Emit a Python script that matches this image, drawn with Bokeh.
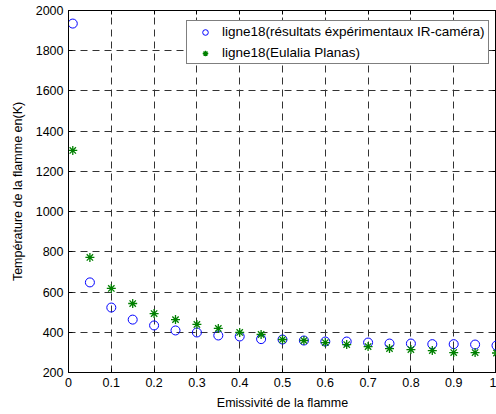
from bokeh.plotting import figure
from bokeh.models import (LinearAxis, Legend, LegendItem, FixedTicker, Range1d)
from bokeh.embed import file_html
from bokeh.resources import INLINE

# Flame emissivity (x) and flame temperature in K for the two series of "ligne18"
emissivity = [0.01, 0.05, 0.1, 0.15, 0.2, 0.25, 0.3, 0.35, 0.4, 0.45, 0.5,
              0.55, 0.6, 0.65, 0.7, 0.75, 0.8, 0.85, 0.9, 0.95, 1.0]
temp_ir_camera = [1935, 648, 523, 463, 434, 409, 399, 384, 379, 366, 364,
                  359, 354, 354, 349, 344, 344, 341, 341, 339, 334]
temp_planas = [1304, 772, 618, 543, 493, 463, 439, 419, 399, 389, 364,
               359, 349, 339, 329, 319, 314, 309, 299, 299, 297]

x_ticks = [0, 0.1, 0.2, 0.3, 0.4, 0.5, 0.6, 0.7, 0.8, 0.9, 1]
x_tick_labels = ["0", "0.1", "0.2", "0.3", "0.4", "0.5", "0.6", "0.7", "0.8", "0.9", "1"]
y_ticks = [200, 400, 600, 800, 1000, 1200, 1400, 1600, 1800, 2000]

label_ir = "ligne18(résultats éxpérimentaux IR-caméra)"
label_planas = "ligne18(Eulalia Planas)"

FONT = "Liberation Sans"
FS = "12.5px"

p = figure(width=496, height=414, output_backend="svg", toolbar_location=None,
           x_range=Range1d(0, 1), y_range=Range1d(200, 2000),
           min_border_left=68, min_border_right=0, min_border_top=10,
           min_border_bottom=42, x_axis_location=None, y_axis_location=None)
p.background_fill_color = "white"
p.border_fill_color = "white"
p.outline_line_color = "black"
p.outline_line_width = 1

xaxis = LinearAxis(ticker=FixedTicker(ticks=x_ticks),
                   major_label_overrides=dict(zip(x_ticks, x_tick_labels)),
                   axis_label="Emissivité de la flamme")
yaxis = LinearAxis(ticker=FixedTicker(ticks=y_ticks),
                   axis_label="Température de la flamme en(K)")
for ax in (xaxis, yaxis):
    ax.axis_line_color = "black"
    ax.major_tick_line_color = "black"
    ax.major_tick_in = 4
    ax.major_tick_out = 0
    ax.minor_tick_line_color = None
    ax.major_label_text_font = FONT
    ax.major_label_text_font_size = FS
    ax.major_label_text_color = "black"
    ax.axis_label_text_font = FONT
    ax.axis_label_text_font_size = FS
    ax.axis_label_text_font_style = "normal"
    ax.axis_label_text_color = "black"
xaxis.major_label_standoff = 5
xaxis.axis_label_standoff = 6
yaxis.major_label_standoff = 5
yaxis.axis_label_standoff = 8
p.add_layout(xaxis, "below")
p.add_layout(yaxis, "left")

# Tick marks on the top and right edges of the box, without labels
for side, ticks in (("above", x_ticks), ("right", y_ticks)):
    ax = LinearAxis(ticker=FixedTicker(ticks=ticks))
    ax.major_label_text_color = None
    ax.major_label_text_font_size = "1px"
    ax.major_label_standoff = 0
    ax.major_tick_in = 4
    ax.major_tick_out = 0
    ax.minor_tick_line_color = None
    ax.axis_line_color = "black"
    ax.major_tick_line_color = "black"
    p.add_layout(ax, side)

p.xgrid.ticker = FixedTicker(ticks=x_ticks)
p.ygrid.ticker = FixedTicker(ticks=y_ticks)
for g in (p.xgrid, p.ygrid):
    g.grid_line_color = "#333333"
    g.grid_line_dash = "7 5"
    g.grid_line_width = 1

r_ir = p.scatter(emissivity, temp_ir_camera, marker="circle", size=9,
                 fill_color=None, line_color="#0000ff", line_width=1)
r_pl = p.scatter(emissivity, temp_planas, marker="asterisk", size=9,
                 line_color="#008000", line_width=1.3)

legend = Legend(items=[LegendItem(label=label_ir, renderers=[r_ir]),
                       LegendItem(label=label_planas, renderers=[r_pl])],
                location=(118, 308))
legend.border_line_color = "black"
legend.border_line_width = 1
legend.background_fill_color = "white"
legend.background_fill_alpha = 1
legend.label_text_font = FONT
legend.label_text_font_size = "13.5px"
legend.label_text_color = "black"
legend.glyph_width = 30
legend.glyph_height = 14
legend.label_height = 14
legend.label_standoff = 2
legend.spacing = 6
legend.padding = 3
legend.margin = 0
p.add_layout(legend)

open("out.html", "w").write(file_html(p, INLINE))
